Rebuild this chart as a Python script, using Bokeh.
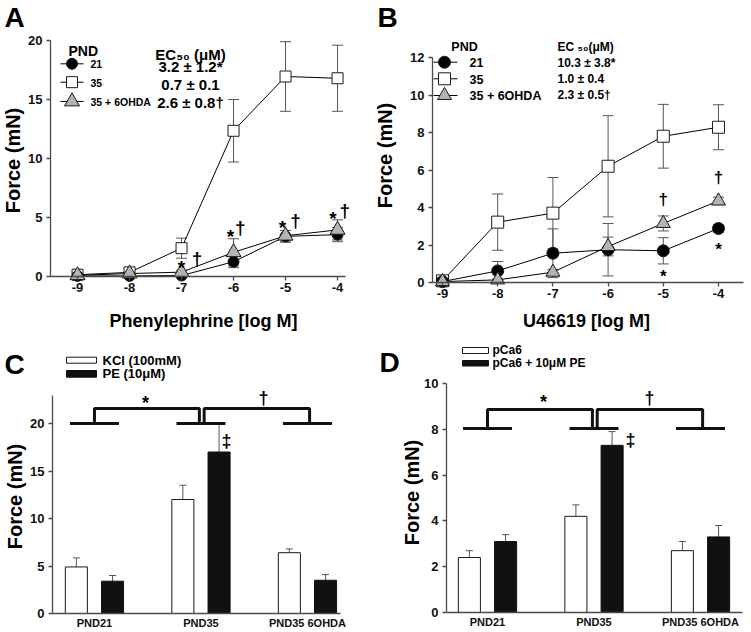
import math
from bokeh.plotting import figure
from bokeh.models import Range1d, FixedTicker, Label, Whisker, TeeHead, ColumnDataSource
from bokeh.layouts import row, column
from bokeh.embed import file_html
from bokeh.resources import INLINE

FONT = "Liberation Sans"
K_BASE = 0.30  # baseline compensation (fraction of font size)

# ---------------- data ----------------
log_conc = [-9, -8, -7, -6, -5, -4]
log_conc_labels = ["-9", "-8", "-7", "-6", "-5", "-4"]

# Panel A: phenylephrine
pe_pnd21 = [0.05, 0.05, 0.08, 1.25, 3.4, 3.55]
pe_pnd21_err = [0.05, 0.05, 0.08, 0.5, 0.5, 0.6]
pe_pnd35 = [0.15, 0.35, 2.4, 12.35, 16.95, 16.8]
pe_pnd35_err = [0.1, 0.1, 0.85, 2.65, 2.95, 2.8]
pe_ohda = [0.1, 0.25, 0.37, 2.05, 3.45, 3.95]
pe_ohda_err = [0.05, 0.1, 0.15, 1.15, 0.45, 0.85]

# Panel B: U46619
u_pnd21 = [0.05, 0.62, 1.56, 1.75, 1.69, 2.88]
u_pnd21_err = [0.05, 0.5, 1.3, 1.4, 0.7, 0.2]
u_pnd35 = [0.09, 3.22, 3.7, 6.2, 7.8, 8.28]
u_pnd35_err = [0.05, 1.5, 1.9, 2.7, 1.7, 1.2]
u_ohda = [0.05, 0.14, 0.55, 1.92, 3.15, 4.35]
u_ohda_err = [0.03, 0.05, 0.15, 0.5, 0.4, 0.2]

legend_groups = ["21", "35", "35 + 6OHDA"]
ec50_pe = ["3.2 \u00b1 1.2*", "0.7 \u00b1 0.1", "2.6 \u00b1 0.8\u2020"]
ec50_u = ["10.3 \u00b1 3.8*", "1.0 \u00b1 0.4", "2.3 \u00b1 0.5\u2020"]

# significance marks (x, baseline y in data units)
a_star_x = [-7.0, -6.06, -5.06, -4.09]
a_star_y = [0.27, 2.89, 3.66, 4.44]
a_dag_x = [-6.7, -5.87, -4.81, -3.86]
a_dag_y = [1.02, 3.70, 4.27, 5.12]
b_star_x = [-5.0, -4.0]
b_star_y = [0.03, 1.5]
b_dag_x = [-5.0, -4.0]
b_dag_y = [4.13, 5.35]

# Panels C and D: bar charts
bar_groups = ["PND21", "PND35", "PND35 6OHDA"]
kcl = [4.9, 12.0, 6.4]
kcl_err = [0.95, 1.5, 0.4]
pe10 = [3.4, 17.0, 3.5]
pe10_err = [0.6, 2.9, 0.6]
pca6 = [2.4, 4.2, 2.7]
pca6_err = [0.3, 0.5, 0.4]
pca6_pe = [3.1, 7.3, 3.3]
pca6_pe_err = [0.3, 0.6, 0.5]

AXIS_COLOR = "#4a4a4a"
ERR_COLOR = "#555555"
TRI_FILL = "#b3b3b3"


class Panel:
    """A figure whose frame fills the whole figure; axes sit at fixed data locations."""

    def __init__(self, ox, oy, w, h, fl, fb, sx, sy, x0):
        self.ox, self.oy, self.w, self.h = ox, oy, w, h
        self.fl, self.fb, self.sx, self.sy, self.x0 = fl, fb, sx, sy, x0
        self.p = figure(
            width=w, height=h,
            x_range=Range1d(x0 - (fl - ox) / sx, x0 + (ox + w - fl) / sx),
            y_range=Range1d(-(oy + h - fb) / sy, (fb - oy) / sy),
            output_backend="svg", toolbar_location=None,
            min_border_left=0, min_border_right=0, min_border_top=0, min_border_bottom=0,
        )
        p = self.p
        p.outline_line_color = None
        p.xgrid.visible = False
        p.ygrid.visible = False
        p.background_fill_color = "white"
        p.border_fill_color = "white"
        p.xaxis.fixed_location = 0
        p.yaxis.fixed_location = x0

    def X(self, px):
        return self.x0 + (px - self.fl) / self.sx

    def Y(self, py):
        return (self.fb - py) / self.sy

    def text(self, x, y, t, size, align="left", angle=0, style="bold"):
        # compensate the renderer's downward baseline offset
        if angle == 0:
            y = y + K_BASE * size / self.sy
        else:
            x = x - K_BASE * size / self.sx
        self.p.add_layout(Label(x=x, y=y, text=t, text_font=FONT,
                                text_font_size=f"{size}px", text_font_style=style,
                                text_align=align, text_baseline="alphabetic", angle=angle,
                                text_color="black"))


def style_axes(p, xticks, xlabels, xbounds, yticks, ybounds, x_tick_out, x_standoff, x_fs, y_fs):
    ax = p.xaxis[0]
    ay = p.yaxis[0]
    ax.ticker = FixedTicker(ticks=xticks)
    ax.major_label_overrides = {t: l for t, l in zip(xticks, xlabels)}
    ax.bounds = xbounds
    ax.major_tick_out = x_tick_out
    ax.major_label_standoff = x_standoff
    ax.major_label_text_font_size = f"{x_fs}px"
    ay.ticker = FixedTicker(ticks=yticks)
    ay.major_label_overrides = {t: str(t) for t in yticks}
    ay.bounds = ybounds
    ay.major_tick_out = 4
    ay.major_label_standoff = 4
    ay.major_label_text_font_size = f"{y_fs}px"
    for a in (ax, ay):
        a.axis_line_color = AXIS_COLOR
        a.axis_line_width = 1.3
        a.major_tick_line_color = AXIS_COLOR
        a.major_tick_line_width = 1.3
        a.major_tick_in = 0
        a.minor_tick_line_color = None
        a.major_label_text_font = FONT
        a.major_label_text_font_style = "bold"
        a.major_label_text_color = "#111111"


def err_whisker(p, xs, ys, es, head, both=True):
    src = ColumnDataSource(dict(x=xs,
                                lo=[y - e for y, e in zip(ys, es)] if both else list(ys),
                                hi=[y + e for y, e in zip(ys, es)]))
    w = Whisker(source=src, base="x", lower="lo", upper="hi",
                line_color=ERR_COLOR, line_width=1,
                upper_head=TeeHead(size=head, line_color=ERR_COLOR, line_width=1),
                lower_head=TeeHead(size=head, line_color=ERR_COLOR, line_width=1) if both else None)
    p.add_layout(w)


def dose_panel(P, s21, e21, s35, e35, soh, eoh, msz):
    p = P.p
    series = [(s35, e35, "square", "white", msz["square"]),
              (s21, e21, "circle", "black", msz["circle"]),
              (soh, eoh, "triangle", TRI_FILL, msz["triangle"])]
    for ys, es, *_ in series:
        err_whisker(p, log_conc, ys, es, 11)
    for ys, es, *_ in series:
        p.line(log_conc, ys, line_color="black", line_width=1)
    for ys, es, mk, fc, sz in series:
        p.scatter(log_conc, ys, marker=mk, size=sz, fill_color=fc, line_color="#1a1a1a", line_width=1)


def dose_legend(P, rows_y, line_x, mark_x, text_x, size, msz):
    p = P.p
    specs = [("circle", "black", msz["circle"]), ("square", "white", msz["square"]),
             ("triangle", TRI_FILL, msz["triangle"])]
    for (mk, fc, sz), ry, lab in zip(specs, rows_y, legend_groups):
        p.line([P.X(line_x[0]), P.X(line_x[1])], [P.Y(ry), P.Y(ry)], line_color="black", line_width=1)
        p.scatter([P.X(mark_x)], [P.Y(ry)], marker=mk, size=sz, fill_color=fc,
                  line_color="#1a1a1a", line_width=1)
        P.text(P.X(text_x), P.Y(ry + size * 0.36), lab, size)


YLAB_FS = 20

# ---------------- Panel A ----------------
A = Panel(0, 0, 375, 336, 50, 276, 52.0, 11.8, -9.52)
style_axes(A.p, log_conc, log_conc_labels, (-9.52, -3.85), [0, 5, 10, 15, 20], (0, 20), 4, 2, 13, 13)
msA = {"circle": 11, "square": 11, "triangle": 15}
dose_panel(A, pe_pnd21, pe_pnd21_err, pe_pnd35, pe_pnd35_err, pe_ohda, pe_ohda_err, msA)
for x, y in zip(a_star_x, a_star_y):
    A.text(x, y, "*", 19, align="center")
for x, y in zip(a_dag_x, a_dag_y):
    A.text(x, y, "\u2020", 19, align="center")
A.text(A.X(4), A.Y(25), "A", 28)
A.text(A.X(18), A.Y(160), "Force (mN)", YLAB_FS, align="center", angle=math.pi / 2)
A.text(A.X(203), A.Y(325.5), "Phenylephrine [log M]", 18, align="center")
A.text(A.X(68), A.Y(55), "PND", 14)
dose_legend(A, [63.3, 81.7, 101.0], (60, 83), 71.5, 90, 10.5, msA)
A.text(A.X(190), A.Y(58.3), "EC\u2085\u2080 (\u03bcM)", 15, align="center")
for t, yb in zip(ec50_pe, [70, 88, 106]):
    A.text(A.X(190), A.Y(yb), t, 15, align="center")

# ---------------- Panel B ----------------
B = Panel(375, 0, 376, 336, 432, 282, 55.2, 18.75, -9.181)
style_axes(B.p, log_conc, log_conc_labels, (-9.181, -3.547), [0, 2, 4, 6, 8, 10, 12], (0, 12), 4, 2, 13, 13)
msB = {"circle": 12, "square": 12, "triangle": 14}
dose_panel(B, u_pnd21, u_pnd21_err, u_pnd35, u_pnd35_err, u_ohda, u_ohda_err, msB)
for x, y in zip(b_star_x, b_star_y):
    B.text(x, y, "*", 17, align="center")
for x, y in zip(b_dag_x, b_dag_y):
    B.text(x, y, "\u2020", 17, align="center")
B.text(B.X(377), B.Y(25), "B", 28)
B.text(B.X(390), B.Y(155), "Force (mN)", YLAB_FS, align="center", angle=math.pi / 2)
B.text(B.X(586), B.Y(325.5), "U46619 [log M]", 18, align="center")
B.text(B.X(464), B.Y(50), "PND", 12.5, align="center")
dose_legend(B, [61.7, 78.3, 95.0], (433, 457), 444, 469, 12.5, msB)
B.text(B.X(557), B.Y(50), "EC \u2085\u2080(\u03bcM)", 12)
for t, yb in zip(ec50_u, [65.7, 82.3, 98.3]):
    B.text(B.X(557), B.Y(yb), t, 12)


# ---------------- bar panels ----------------
def bar_panel(P, white_vals, white_err, black_vals, black_err, yticks, ybound, xbound,
              br_low, br_high, marks):
    p = P.p
    idx = list(range(len(bar_groups)))
    style_axes(p, idx, bar_groups, xbound, yticks, ybound, 0, 3, 11, 13)
    wx = [i - 0.17 for i in idx]
    bx = [i + 0.17 for i in idx]
    p.vbar(x=wx, top=white_vals, width=0.207, fill_color="white", line_color="#1a1a1a", line_width=1)
    p.vbar(x=bx, top=black_vals, width=0.207, fill_color="#111111", line_color="#111111", line_width=1)
    err_whisker(p, wx, white_vals, white_err, 7, both=False)
    err_whisker(p, bx, black_vals, black_err, 7, both=False)
    # comparison brackets
    for i in idx:
        p.line([i - 0.23, i + 0.23], [br_low, br_low], line_color="#111111", line_width=3)
    for a, b in [(idx[0] + 0.0, idx[1] - 0.015), (idx[1] + 0.03, idx[2] + 0.02)]:
        p.line([a, a, b, b], [br_low, br_high, br_high, br_low], line_color="#111111", line_width=3)
    for x, y, t in marks:
        P.text(x, y, t, 18, align="center")


C = Panel(0, 336, 375, 296, 52, 613, 106.5, 9.5, -0.394)
bar_panel(C, kcl, kcl_err, pe10, pe10_err, [0, 5, 10, 15, 20], (0, 22.95), (-0.394, 2.31),
          20.0, 21.58, [(0.479, 21.63, "*"), (1.587, 22.16, "\u2020"), (1.24, 17.63, "\u2021")])
C.text(C.X(4), C.Y(372), "C", 28)
C.text(C.X(20), C.Y(496), "Force (mN)", YLAB_FS, align="center", angle=math.pi / 2)
C.p.quad(left=[C.X(66)], right=[C.X(96)], bottom=[C.Y(362.7)], top=[C.Y(356.7)],
         fill_color="white", line_color="#1a1a1a", line_width=1)
C.p.quad(left=[C.X(66)], right=[C.X(96)], bottom=[C.Y(376.7)], top=[C.Y(370)],
         fill_color="#111111", line_color="#111111", line_width=1)
C.text(C.X(102), C.Y(364), "KCl (100mM)", 13)
C.text(C.X(102), C.Y(377.3), "PE (10\u03bcM)", 13)

D = Panel(375, 336, 376, 296, 446, 612, 106.5, 22.9, -0.385)
bar_panel(D, pca6, pca6_err, pca6_pe, pca6_pe_err, [0, 2, 4, 6, 8, 10], (0, 10), (-0.385, 2.394),
          8.03, 8.86, [(0.526, 8.97, "*"), (1.521, 9.15, "\u2020"), (1.343, 7.31, "\u2021")])
D.text(D.X(379), D.Y(370), "D", 28)
D.text(D.X(417), D.Y(492), "Force (mN)", YLAB_FS, align="center", angle=math.pi / 2)
D.p.quad(left=[D.X(462)], right=[D.X(488)], bottom=[D.Y(353)], top=[D.Y(347)],
         fill_color="white", line_color="#1a1a1a", line_width=1)
D.p.quad(left=[D.X(462)], right=[D.X(488)], bottom=[D.Y(365.5)], top=[D.Y(360)],
         fill_color="#111111", line_color="#111111", line_width=1)
D.text(D.X(492), D.Y(353), "pCa6", 12)
D.text(D.X(492), D.Y(366), "pCa6 + 10\u03bcM PE", 12)

layout = column(row(A.p, B.p), row(C.p, D.p))
open("out.html", "w").write(file_html(layout, INLINE))
